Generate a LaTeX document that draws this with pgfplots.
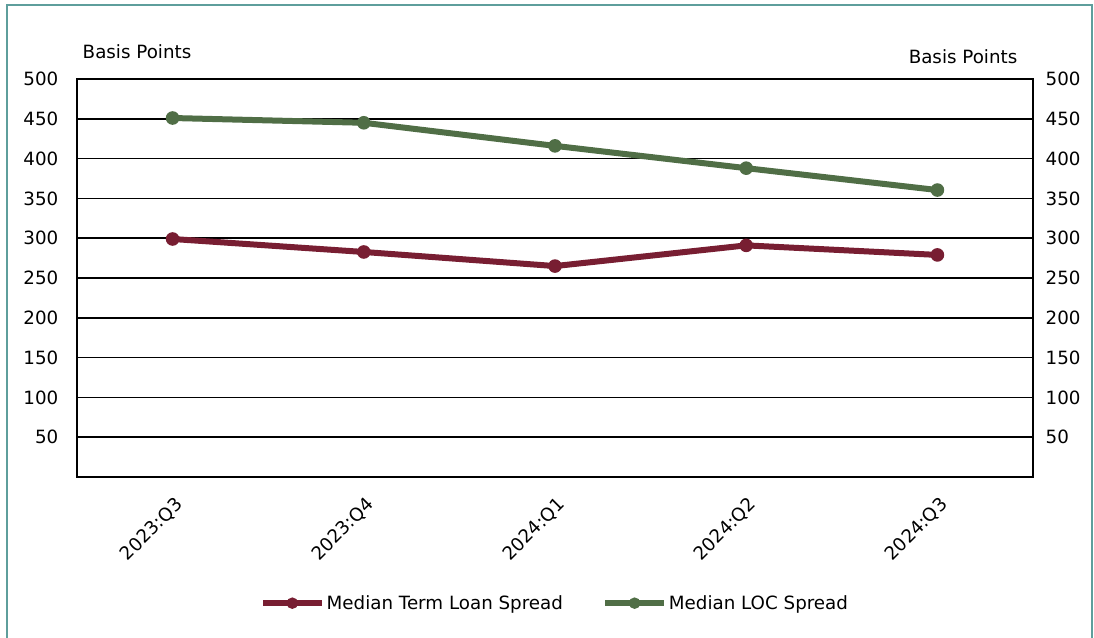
\documentclass[border=0pt]{standalone}
\usepackage{fontspec}
\setmainfont{DejaVu Sans}
\usepackage{pgfplots}
\pgfplotsset{compat=1.18}
\definecolor{termred}{HTML}{781E32}
\definecolor{locgreen}{HTML}{506E46}
\definecolor{frameteal}{HTML}{5E9E9C}
\newcommand{\chartfont}{\fontsize{13.7}{16}\selectfont}
\begin{document}
\begin{tikzpicture}[x=1pt,y=1pt]
\path[use as bounding box] (0,0) rectangle (820.5,477.75);
\draw[frameteal, line width=1.5pt] (5.25,-2) -- (5.25,474) -- (819,474) -- (819,-2);
\begin{axis}[
  at={(57.75pt,120pt)}, anchor=south west,
  scale only axis, width=717pt, height=298.5pt,
  xmin=-0.5, xmax=4.5, ymin=0, ymax=500,
  xtick={0,1,2,3,4},
  xticklabels={2023:Q3,2023:Q4,2024:Q1,2024:Q2,2024:Q3},
  ytick={50,100,...,500},
  ymajorgrids,
  major grid style={black, line width=1.2pt},
  axis line style={black, line width=1.5pt},
  major tick length=0pt,
  tick label style={font=\chartfont},
  /pgf/number format/assume math mode=true,
  yticklabel style={xshift=-10.5pt},
  xticklabel style={yshift=-14pt, xshift=1pt, rotate=45, anchor=north east, inner sep=0pt},
  legend style={at={(0.5,-0.317)}, anchor=center, draw=none, legend columns=2,
    font=\chartfont, nodes={inner sep=1.5pt},
    /tikz/every even column/.append style={column sep=28pt}},
  legend image code/.code={\draw[mark repeat=2,mark phase=2,#1,mark size=3.8pt] plot coordinates {(0pt,0pt) (22pt,0pt) (44pt,0pt)};},
]
\addplot[termred, line width=4.5pt, mark=*, mark size=4.6pt, mark options={solid, line width=1pt}]
  coordinates {(0,299) (1,282.7) (2,265) (3,291) (4,279)};
\addlegendentry{Median Term Loan Spread}
\addplot[locgreen, line width=4.5pt, mark=*, mark size=4.6pt, mark options={solid, line width=1pt}]
  coordinates {(0,451) (1,445) (2,416) (3,388) (4,360.5)};
\addlegendentry{Median LOC Spread}
\end{axis}
\begin{axis}[
  at={(57.75pt,120pt)}, anchor=south west,
  scale only axis, width=717pt, height=298.5pt,
  xmin=-0.5, xmax=4.5, ymin=0, ymax=500,
  axis x line=none, axis y line*=right,
  axis line style={draw=none},
  ytick={50,100,...,500},
  major tick length=0pt,
  tick label style={font=\chartfont},
  /pgf/number format/assume math mode=true,
  yticklabel style={xshift=6pt},
]
\end{axis}
\node[font=\chartfont] at (102.75,438.75) {Basis Points};
\node[font=\chartfont] at (722.25,435) {Basis Points};
\end{tikzpicture}
\end{document}
